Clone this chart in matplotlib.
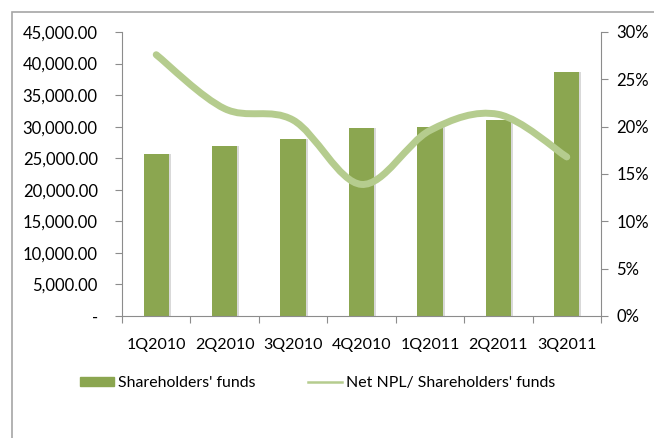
import numpy as np
import matplotlib.pyplot as plt
from matplotlib.path import Path
from matplotlib.patches import PathPatch, Rectangle
from matplotlib.lines import Line2D
from matplotlib.ticker import FuncFormatter

plt.rcParams['font.family'] = ['Lato', 'DejaVu Sans']

quarters = ['1Q2010', '2Q2010', '3Q2010', '4Q2010', '1Q2011', '2Q2011', '3Q2011']
funds = [25700, 27000, 28100, 29800, 29900, 31100, 38700]
npl_ratio = [27.6, 21.9, 20.7, 13.9, 19.6, 21.3, 16.8]

bar_col = '#8BA650'
line_col = '#B5CC8E'
grey = '#8C8C8C'

fig = plt.figure(figsize=(6.54, 4.38), dpi=100)
fig.patches.append(Rectangle((12 / 654, -0.1), 1.2, 1 - 12 / 438 + 0.1,
                             transform=fig.transFigure, fill=False,
                             edgecolor='#A6A6A6', lw=1.2))

ax = fig.add_axes([122 / 654, 1 - 316 / 438, 479 / 654, 284 / 438])
x = np.arange(len(quarters))
# soft shadow behind bars
ax.bar(x + 0.03, funds, width=0.37, color='#D9D9D9', zorder=1)
ax.bar(x, funds, width=0.37, color=bar_col, zorder=2)
ax.set_xlim(-0.5, len(quarters) - 0.5)
ax.set_ylim(0, 45000)
ax.set_yticks(np.arange(0, 45001, 5000))
ax.yaxis.set_major_formatter(FuncFormatter(lambda v, p: '-' if v == 0 else f'{v:,.2f}'))
ax.set_xticks(np.arange(-0.5, len(quarters), 1))
ax.set_xticklabels([])
ax.set_xticks(x, minor=True)
ax.set_xticklabels(quarters, minor=True)
ax.tick_params(axis='x', which='minor', length=0, pad=15.5, labelsize=11.5)
ax.tick_params(axis='x', which='major', length=5, color=grey, direction='out')
ax.tick_params(axis='y', length=5, color=grey, labelsize=12, pad=12.5)
for s in ['top', 'right']:
    ax.spines[s].set_visible(False)
ax.spines['left'].set_color(grey)
ax.spines['bottom'].set_color(grey)

ax2 = ax.twinx()
ax2.set_ylim(0, 30)
ax2.set_yticks(np.arange(0, 31, 5))
ax2.yaxis.set_major_formatter(FuncFormatter(lambda v, p: f'{v:.0f}%'))
ax2.tick_params(axis='y', length=5, color=grey, labelsize=12, pad=6)
for s in ['top', 'left', 'bottom']:
    ax2.spines[s].set_visible(False)
ax2.spines['right'].set_color(grey)

# smoothed line like Excel (Bezier with Catmull-Rom control points)
pts = np.column_stack([x, npl_ratio]).astype(float)
verts = [pts[0]]
codes = [Path.MOVETO]
n = len(pts)
for i in range(n - 1):
    p0 = pts[max(i - 1, 0)]
    p1 = pts[i]
    p2 = pts[i + 1]
    p3 = pts[min(i + 2, n - 1)]
    c1 = p1 + (p2 - p0) / 6
    c2 = p2 - (p3 - p1) / 6
    verts += [c1, c2, p2]
    codes += [Path.CURVE4] * 3
ax2.add_patch(PathPatch(Path(verts, codes), fill=False, edgecolor=line_col,
                        lw=5, capstyle='round', zorder=3))

handles = [Rectangle((0, 0), 1, 1, color=bar_col),
           Line2D([0], [0], color=line_col, lw=1.8)]
fig.legend(handles, ["Shareholders' funds", "Net NPL/ Shareholders' funds"],
           loc='center', bbox_to_anchor=(0.4855, 1 - 383 / 438), ncol=2,
           frameon=False, fontsize=11.4, handlelength=2.15, handleheight=0.55,
           handletextpad=0.25, columnspacing=3.35)

fig.savefig('out.png', dpi=100)
